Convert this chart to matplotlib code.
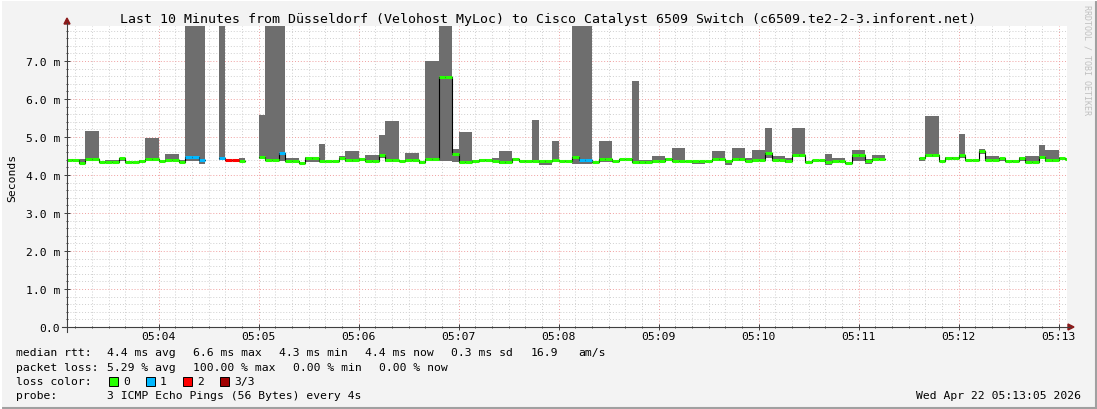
import numpy as np
import matplotlib.pyplot as plt
from matplotlib.lines import Line2D
from matplotlib.patches import Polygon, Rectangle

plt.rcParams['font.family'] = 'DejaVu Sans Mono'

# --- data: 4 s samples, start 05:03:04 (seconds after 05:00:00) ---
t_start = 184
step = 4
nan = np.nan

median = [4.40, 4.40, 4.31, 4.42, 4.42, 4.33, 4.33, 4.33, 4.45, 4.33,
          4.33, 4.38, 4.42, 4.42, 4.38, 4.40, 4.40, 4.33, 4.48, 4.48,
          4.40, nan, nan, 4.45, 4.40, 4.40, 4.38, nan, nan, 4.47,
          4.40, 4.40, 4.57, 4.36, 4.36, 4.32, 4.44, 4.44, 4.36, 4.38,
          4.38, 4.44, 4.40, 4.40, 4.42, 4.38, 4.38, 4.53, 4.39, 4.39,
          4.36, 4.40, 4.40, 4.33, 4.42, 4.42, 6.57, 6.57, 4.55, 4.33,
          4.33, 4.36, 4.40, 4.40, 4.38, 4.33, 4.33, 4.42, 4.38, 4.38,
          4.37, 4.37, 4.38, 4.40, 4.36, 4.36, 4.48, 4.39, 4.39, 4.33,
          4.42, 4.42, 4.38, 4.42, 4.42, 4.35, 4.33, 4.33, 4.38, 4.38,
          4.42, 4.38, 4.38, 4.38, 4.38, 4.38, 4.36, 4.42, 4.42, 4.36,
          4.42, 4.42, 4.38, 4.40, 4.40, 4.59, 4.40, 4.40, 4.36, 4.53,
          4.53, 4.33, 4.40, 4.40, 4.33, 4.38, 4.38, 4.31, 4.53, 4.53,
          4.38, 4.42, 4.42, nan, nan, nan, nan, nan, 4.45, 4.53,
          4.53, 4.36, 4.45, 4.45, 4.53, 4.40, 4.40, 4.62, 4.40, 4.40,
          4.44, 4.36, 4.36, 4.45, 4.33, 4.33, 4.48, 4.40, 4.40, 4.44,
          4.42]

smoke_lo = [4.37, 4.37, 4.30, 4.38, 4.38, 4.33, 4.32, 4.32, 4.38, 4.33,
            4.33, 4.37, 4.38, 4.38, 4.37, 4.38, 4.38, 4.33, 4.36, 4.36,
            4.29, nan, nan, 4.40, 4.40, 4.40, 4.38, nan, nan, 4.42,
            4.38, 4.38, 4.36, 4.36, 4.36, 4.32, 4.35, 4.35, 4.34, 4.38,
            4.38, 4.40, 4.35, 4.35, 4.40, 4.36, 4.36, 4.45, 4.34, 4.34,
            4.34, 4.38, 4.38, 4.30, 4.36, 4.36, 4.36, 4.36, 4.35, 4.31,
            4.31, 4.34, 4.38, 4.38, 4.36, 4.30, 4.30, 4.36, 4.36, 4.36,
            4.34, 4.27, 4.27, 4.34, 4.36, 4.34, 4.29, 4.29, 4.29, 4.33,
            4.35, 4.35, 4.36, 4.42, 4.42, 4.33, 4.30, 4.30, 4.34, 4.34,
            4.38, 4.36, 4.36, 4.38, 4.28, 4.28, 4.36, 4.38, 4.38, 4.27,
            4.38, 4.38, 4.36, 4.38, 4.38, 4.45, 4.38, 4.38, 4.32, 4.47,
            4.47, 4.33, 4.40, 4.40, 4.27, 4.36, 4.36, 4.31, 4.38, 4.38,
            4.30, 4.40, 4.40, nan, nan, nan, nan, nan, 4.36, 4.48,
            4.48, 4.33, 4.42, 4.42, 4.45, 4.40, 4.40, 4.55, 4.38, 4.38,
            4.36, 4.36, 4.36, 4.36, 4.31, 4.31, 4.47, 4.33, 4.33, 4.40,
            4.40]

smoke_hi = [4.42, 4.42, 4.42, 5.17, 5.17, 4.35, 4.40, 4.40, 4.45, 4.35,
            4.35, 4.40, 4.98, 4.98, 4.40, 4.55, 4.55, 4.40, 12.0, 12.0,
            12.0, nan, nan, 12.0, 4.40, 4.40, 4.45, nan, nan, 5.58,
            12.0, 12.0, 12.0, 4.45, 4.45, 4.33, 4.48, 4.48, 4.82, 4.38,
            4.38, 4.50, 4.64, 4.64, 4.45, 4.52, 4.52, 5.05, 5.42, 5.42,
            4.40, 4.59, 4.59, 4.38, 6.99, 6.99, 12.0, 12.0, 4.68, 5.12,
            5.12, 4.40, 4.42, 4.42, 4.46, 4.62, 4.62, 4.44, 4.40, 4.40,
            5.45, 4.40, 4.40, 4.90, 4.37, 4.40, 12.0, 12.0, 12.0, 4.36,
            4.89, 4.89, 4.40, 4.42, 4.42, 6.48, 4.40, 4.40, 4.50, 4.50,
            4.44, 4.70, 4.70, 4.38, 4.38, 4.38, 4.36, 4.62, 4.62, 4.40,
            4.71, 4.71, 4.44, 4.66, 4.66, 5.24, 4.51, 4.51, 4.44, 5.24,
            5.24, 4.36, 4.40, 4.40, 4.55, 4.45, 4.45, 4.31, 4.66, 4.66,
            4.42, 4.53, 4.53, nan, nan, nan, nan, nan, 4.45, 5.54,
            5.54, 4.40, 4.47, 4.47, 5.09, 4.40, 4.40, 4.69, 4.51, 4.51,
            4.45, 4.40, 4.40, 4.47, 4.50, 4.50, 4.80, 4.66, 4.66, 4.47,
            4.44]

loss = [0, 0, 0, 0, 0, 0, 0, 0, 0, 0,
        0, 0, 0, 0, 0, 0, 0, 0, 1, 1,
        1, 3, 3, 1, 2, 2, 0, 3, 3, 0,
        0, 0, 1, 0, 0, 0, 0, 0, 0, 0,
        0, 0, 0, 0, 0, 0, 0, 0, 0, 0,
        0, 0, 0, 0, 0, 0, 0, 0, 0, 0,
        0, 0, 0, 0, 0, 0, 0, 0, 0, 0,
        0, 0, 0, 0, 0, 0, 0, 1, 1, 0,
        0, 0, 0, 0, 0, 0, 0, 0, 0, 0,
        0, 0, 0, 0, 0, 0, 0, 0, 0, 0,
        0, 0, 0, 0, 0, 0, 0, 0, 0, 0,
        0, 0, 0, 0, 0, 0, 0, 0, 0, 0,
        0, 0, 0, 3, 3, 3, 3, 3, 0, 0,
        0, 0, 0, 0, 0, 0, 0, 0, 0, 0,
        0, 0, 0, 0, 0, 0, 0, 0, 0, 0,
        0]

loss_colors = ['#26ff00', '#00b8ff', '#ff0000', '#a10000']
loss_labels = ['0', '1', '2', '3/3']
tick_labels = ['05:04', '05:05', '05:06', '05:07', '05:08',
               '05:09', '05:10', '05:11', '05:12', '05:13']

median = np.array(median)
smoke_lo = np.array(smoke_lo)
smoke_hi = np.array(smoke_hi)
loss = np.array(loss)
t = t_start + step * np.arange(len(median))

W, H = 1097, 410
fig = plt.figure(figsize=(W / 100, H / 100), dpi=100)
fig.patch.set_facecolor('#f3f3f3')


def fx(px):
    return px / W


def fy(py):
    return 1 - py / H


ax = fig.add_axes([fx(67), fy(328), 1000 / W, 301 / H])
ax.set_facecolor('white')
ax.set_xlim(185, 785)
ax.set_ylim(0, 301 / 38)

# smoke
ok = ~np.isnan(smoke_lo)
ax.bar(t[ok], smoke_hi[ok] - smoke_lo[ok], bottom=smoke_lo[ok], width=step,
       align='edge', color='#6e6e6e', linewidth=0, antialiased=False, zorder=2)

# median: thin black step line, then colored by loss
ax.step(np.append(t, t[-1] + step), np.append(median, median[-1]),
        where='post', color='black', lw=0.8, zorder=3)
for lv in range(3):
    m = loss == lv
    ax.hlines(median[m], t[m], t[m] + step, color=loss_colors[lv], lw=2.2,
              zorder=4)

# grid and ticks
ax.set_xticks(np.arange(240, 781, 60))
ax.set_xticklabels(tick_labels)
ax.set_xticks(np.arange(190, 786, 10), minor=True)
ax.set_yticks(np.arange(0, 8))
ax.set_yticklabels(['0.0'] + ['%d.0 m' % v for v in range(1, 8)])
ax.set_yticks(np.arange(0, 7.9, 0.2), minor=True)
ax.grid(which='minor', color='#cfcfcf', linestyle=(0, (1, 2)), lw=0.7)
ax.grid(which='major', color='#f0a0a0', linestyle=(0, (1, 2)), lw=0.7)
ax.set_axisbelow(True)
for s in ax.spines.values():
    s.set_visible(False)
ax.tick_params(which='both', labelsize=8.2, color='#404040', width=0.7,
               direction='inout')
ax.tick_params(which='major', length=4)
ax.tick_params(which='minor', length=2)
ax.tick_params(axis='x', pad=1)
ax.tick_params(axis='y', pad=3)
ax.set_ylabel('Seconds', fontsize=8.2, labelpad=6)

# axes with arrows
fig.add_artist(Line2D([fx(62), fx(1070)], [fy(328), fy(328)], color='#404040', lw=0.8))
fig.add_artist(Line2D([fx(67), fx(67)], [fy(333), fy(24)], color='#404040', lw=0.8))
fig.add_artist(Polygon([(fx(1068), fy(325)), (fx(1074), fy(328)), (fx(1068), fy(331))],
                       closed=True, color='#8b1a1a'))
fig.add_artist(Polygon([(fx(64), fy(25)), (fx(67), fy(19)), (fx(70), fy(25))],
                       closed=True, color='#8b1a1a'))

# frame
fig.add_artist(Line2D([fx(0.5), fx(1096)], [fy(409), fy(409)], color='#a0a0a0', lw=1.5))
fig.add_artist(Line2D([fx(1096), fx(1096)], [fy(409), fy(0.5)], color='#a0a0a0', lw=1.5))
fig.add_artist(Line2D([fx(0.5), fx(1096)], [fy(0.5), fy(0.5)], color='white', lw=1.5))
fig.add_artist(Line2D([fx(0.5), fx(0.5)], [fy(409), fy(0.5)], color='white', lw=1.5))

fig.text(0.5, fy(19), 'Last 10 Minutes from Düsseldorf (Velohost MyLoc) to Cisco '
         'Catalyst 6509 Switch (c6509.te2-2-3.inforent.net)',
         ha='center', va='center', fontsize=9.55)
fig.text(fx(1087), fy(5), 'RRDTOOL / TOBI OETIKER', rotation=-90, ha='center',
         va='top', fontsize=6, color='#c0c0c0')

# legend lines
fs = 8.2
rows = [
    (353, [(16, 'median rtt:'), (107, '4.4 ms avg'), (193, '6.6 ms max'),
           (279, '4.3 ms min'), (365, '4.4 ms now'), (451, '0.3 ms sd'),
           (531, '16.9'), (578, 'am/s')]),
    (368, [(16, 'packet loss:'), (107, '5.29 % avg'), (193, '100.00 % max'),
           (293, '0.00 % min'), (379, '0.00 % now')]),
    (382, [(16, 'loss color:')]),
    (396, [(16, 'probe:'), (107, '3 ICMP Echo Pings (56 Bytes) every 4s')]),
]
for py, items in rows:
    for px, s in items:
        fig.text(fx(px), fy(py), s, ha='left', va='center', fontsize=fs)

box_x = [109, 146, 183, 220]
for bx, c, lab in zip(box_x, loss_colors, loss_labels):
    fig.add_artist(Rectangle((fx(bx), fy(386.5)), 9 / W, 9 / H, facecolor=c,
                             edgecolor='black', lw=0.7))
    fig.text(fx(bx + 14), fy(382), lab, ha='left', va='center', fontsize=fs)

fig.text(fx(1081), fy(396), 'Wed Apr 22 05:13:05 2026', ha='right', va='center',
         fontsize=fs)

fig.savefig('out.png', dpi=100, facecolor=fig.get_facecolor())
